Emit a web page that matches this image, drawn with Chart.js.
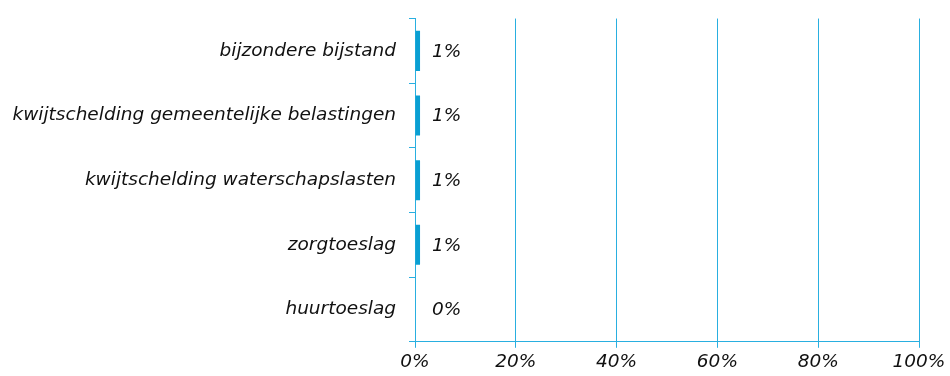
<!DOCTYPE html>
<html>
<head>
<meta charset="utf-8">
<script src="https://cdn.jsdelivr.net/npm/chart.js@4/dist/chart.umd.min.js"></script>
<style>
  html, body { margin: 0; padding: 0; background: #ffffff; }
  #wrap { width: 950px; height: 376px; }
</style>
</head>
<body>
<div id="wrap"><canvas id="c" width="950" height="376"></canvas></div>
<script>
const categories = [
  'bijzondere bijstand',
  'kwijtschelding gemeentelijke belastingen',
  'kwijtschelding waterschapslasten',
  'zorgtoeslag',
  'huurtoeslag'
];
const shares = [1, 1, 1, 1, 0];
const xTicks = [0, 20, 40, 60, 80, 100];

const FONT = "'DejaVu Sans', Verdana, sans-serif";
const BLUE = '#0a9fd2';
const LINE = '#29afe0';
const TEXT = '#111111';

// Writes each bar's percentage just right of its end
const valueLabels = {
  id: 'valueLabels',
  afterDatasetsDraw(chart) {
    const ctx = chart.ctx;
    const meta = chart.getDatasetMeta(0);
    const x0 = chart.scales.x.getPixelForValue(0);
    ctx.save();
    ctx.font = 'italic 18.5px ' + FONT;
    ctx.fillStyle = TEXT;
    ctx.textBaseline = 'middle';
    ctx.textAlign = 'left';
    meta.data.forEach((bar, i) => {
      ctx.fillText(shares[i] + '%', Math.max(bar.x + 12, x0 + 17), bar.y + 1);
    });
    ctx.restore();
  }
};

new Chart(document.getElementById('c'), {
  type: 'bar',
  data: {
    labels: categories,
    datasets: [{
      data: shares,
      backgroundColor: BLUE,
      borderWidth: 0,
      barPercentage: 0.62,
      categoryPercentage: 1
    }]
  },
  options: {
    indexAxis: 'y',
    responsive: false,
    animation: false,
    layout: { padding: { top: 15, right: 31, left: 0, bottom: 0 } },
    plugins: { legend: { display: false }, tooltip: { enabled: false } },
    scales: {
      x: {
        min: 0, max: 100,
        afterBuildTicks(scale) { scale.ticks = xTicks.map(v => ({ value: v })); },
        grid: { color: LINE, lineWidth: 1, tickLength: 6, drawTicks: true },
        border: { color: LINE, width: 1 },
        ticks: {
          font: { family: FONT, size: 18.5, style: 'italic' },
          color: TEXT,
          padding: 3,
          callback: v => v + '%'
        }
      },
      y: {
        afterFit(scale) { scale.width = 415; },
        grid: { offset: true, drawOnChartArea: false, color: LINE, tickLength: 6 },
        border: { color: LINE, width: 1 },
        ticks: {
          font: { family: FONT, size: 18.5, style: 'italic', lineHeight: 0.6 },
          color: TEXT,
          padding: 13
        }
      }
    }
  },
  plugins: [valueLabels]
});
</script>
</body>
</html>
